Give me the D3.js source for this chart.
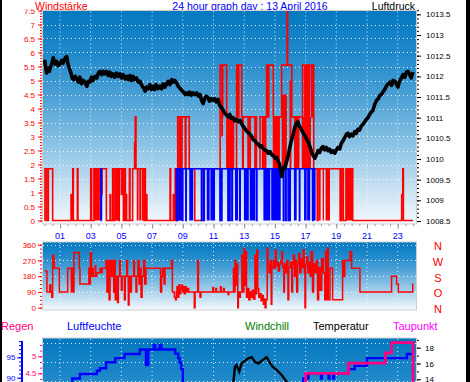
<!DOCTYPE html>
<html><head><meta charset="utf-8">
<script src="https://cdn.jsdelivr.net/npm/d3@7/dist/d3.min.js"></script>
<style>html,body{margin:0;padding:0;background:#fff;overflow:hidden}svg{display:block}</style>
</head><body>
<svg id="chart" width="470" height="382"></svg>
<script>
// ---------------- DATA ----------------
const hourTicks = [1,3,5,7,9,11,13,15,17,19,21,23];
const hourLabels = ["01","03","05","07","09","11","13","15","17","19","21","23"];
const windTicks = [0,0.5,1,1.5,2,2.5,3,3.5,4,4.5,5,5.5,6,6.5,7,7.5];
const pressureTicks = [1008.5,1009,1009.5,1010,1010.5,1011,1011.5,1012,1012.5,1013,1013.5];
const dirTicks = [0,90,180,270,360];
const dirLetters = ["N","O","S","W","N"];
const humTicks = [90,95];
const rainTicks = [4.5,5];
const tempTicks = [14,16,18];

// Wind gusts (red), step series [hour, value]
const gust = [[0,0],[0.02,1.85],[0.13,0],[0.24,1.85],[0.52,0],
[1.72,0.93],[1.76,0],[1.83,1.85],[1.87,0],[2.13,1.85],[2.17,0],[3.0,1.85],[3.06,0],
[3.21,1.85],[3.7,0.93],[3.74,1.85],[4.02,0],[4.26,0.93],[4.3,0],[4.43,1.85],[4.47,0],[4.58,1.85],[4.8,0],
[4.86,1.85],[5.0,0.93],[5.04,1.85],[5.13,0],[5.21,1.85],[5.26,0],[5.3,0.93],[5.34,0],[5.52,1.85],[5.56,0],
[5.73,1.85],[5.86,2.78],[5.9,3.7],[5.95,1.85],[6.47,0],[6.52,1.85],[6.56,0],[6.6,0.93],[6.66,0],
[8.17,1.85],[8.21,0],[8.38,0.93],[8.42,0],[8.5,1.85],[8.56,0],[8.67,3.7],[9.16,1.85],[9.2,3.7],[9.42,1.85],[9.78,0],[10.23,1.85],
[11.43,5.55],[11.55,3.7],[11.6,5.55],[11.86,3.7],[12.1,1.85],[12.15,3.7],[12.3,1.85],[12.5,5.55],[12.6,3.7],[12.65,5.55],[12.84,3.7],[12.9,1.85],[12.94,3.7],[13.25,1.85],[13.3,3.7],[13.7,1.85],[13.75,3.7],[13.8,1.85],[14.03,3.7],[14.2,1.85],[14.3,3.7],[14.46,5.55],[14.55,3.7],[14.6,5.55],[14.9,3.7],[15.44,5.55],[15.8,7.8],[15.83,5.55],[16.1,3.7],[16.3,1.85],[16.35,3.7],[16.8,5.55],[17.4,3.7],[17.5,5.55],[17.53,1.85],[17.76,0],[17.8,1.85],[19.25,0],[19.35,1.85],[19.46,0],[19.63,1.85],[20.07,0],[23.26,0.93],[23.33,1.85],[23.37,0],[24,0]];
// dense gust bursts [hourFrom, hourTo, low, high]
const gustBursts = [[3.21,3.6,0,1.85],[4.58,4.8,0,1.85],[6.0,6.12,0,1.85],[6.16,6.3,0,1.85],[6.34,6.45,0,1.85],
[8.7,9.0,0,3.7],[11.5,11.62,3.0,4.3],[11.82,12.07,1.85,3.7],[12.15,12.28,1.85,3.7],[13.32,13.45,1.85,3.7],[14.32,14.45,1.85,3.7],
[14.86,15.33,1.85,3.7],[15.44,15.78,1.85,4.5],[15.95,16.08,1.85,5.0],
[16.3,16.6,1.85,3.7],[16.75,17.35,1.85,3.7],[16.9,17.3,3.7,5.55],
[17.83,17.98,0,1.85],[18.11,18.2,0,1.85],[18.3,18.59,0,1.85],[19.63,20.07,0,1.85]];
// Average wind (blue), step series, null breaks the line
const windAvg = [[3.64,0],[3.66,1.85],[3.7,0],[3.71,null],
[8.56,0],[8.58,1.85],[8.62,0],[8.65,1.85],[8.98,0],[9.0,1.85],[9.2,0],[9.22,1.85],[10.22,0],[10.25,1.85],[10.37,0],[10.4,1.85],[11.42,0],[11.45,1.85],[11.52,0],[11.55,1.85],[11.94,0],[11.97,1.85],[12.05,0],[12.08,1.85],[12.2,0],[12.23,1.85],[12.71,0],[12.74,1.85],[13.8,0],[13.83,1.85],[15.55,0],[15.58,1.85],[15.7,0],[15.73,1.85],[15.86,0],[15.89,1.85],[15.97,0],[16.0,1.85],[16.6,0],[16.62,1.85],[17.48,0],[17.5,1.85],[17.6,0],[17.62,null]];
const windAvgBursts = [[8.7,8.93],[9.42,9.68],[10.56,10.75],[10.8,11.1],[12.4,12.6],[12.98,13.3],[13.36,13.72],[14.25,14.7],[14.76,15.38],[16.24,16.42],[16.9,17.07],[17.1,17.3],[17.4,17.5]];
// Pressure (hPa)
const pressure = [[0.0,1012.40],[0.06,1012.22],[0.13,1012.08],[0.22,1012.20],[0.3,1012.12],[0.38,1012.22],[0.46,1012.30],[0.56,1012.45],[0.66,1012.30],[0.78,1012.36],[0.88,1012.26],[1.0,1012.30],[1.1,1012.38],[1.2,1012.32],[1.3,1012.42],[1.44,1012.48],[1.52,1012.30],[1.6,1012.20],[1.7,1012.10],[1.8,1011.95],[1.9,1011.92],[2.0,1012.0],[2.09,1011.94],[2.2,1011.86],[2.3,1011.98],[2.41,1011.82],[2.52,1011.90],[2.63,1011.86],[2.75,1011.76],[2.85,1011.88],[2.95,1011.86],[3.05,1011.98],[3.15,1011.90],[3.28,1012.0],[3.4,1011.96],[3.5,1012.08],[3.61,1012.12],[3.72,1012.04],[3.82,1012.12],[3.93,1012.06],[4.04,1012.12],[4.15,1012.02],[4.25,1012.10],[4.35,1012.0],[4.45,1012.06],[4.56,1011.98],[4.68,1012.08],[4.8,1012.0],[4.91,1012.06],[5.02,1011.96],[5.12,1012.04],[5.24,1011.94],[5.35,1012.0],[5.45,1011.92],[5.55,1012.02],[5.66,1011.9],[5.76,1012.0],[5.86,1011.92],[5.98,1011.96],[6.1,1011.86],[6.21,1011.88],[6.32,1011.78],[6.45,1011.72],[6.55,1011.64],[6.65,1011.74],[6.75,1011.7],[6.86,1011.8],[6.96,1011.68],[7.06,1011.76],[7.16,1011.68],[7.26,1011.8],[7.38,1011.7],[7.51,1011.76],[7.62,1011.7],[7.72,1011.82],[7.84,1011.74],[7.95,1011.82],[8.05,1011.88],[8.16,1011.8],[8.28,1011.92],[8.38,1011.86],[8.48,1011.9],[8.6,1011.84],[8.7,1011.76],[8.8,1011.72],[8.93,1011.66],[9.05,1011.62],[9.15,1011.56],[9.25,1011.6],[9.35,1011.56],[9.45,1011.62],[9.55,1011.54],[9.66,1011.6],[9.78,1011.56],[9.9,1011.6],[10.02,1011.52],[10.12,1011.56],[10.22,1011.42],[10.32,1011.34],[10.42,1011.46],[10.52,1011.52],[10.64,1011.48],[10.74,1011.4],[10.85,1011.46],[10.97,1011.42],[11.08,1011.46],[11.18,1011.38],[11.29,1011.44],[11.4,1011.3],[11.53,1011.24],[11.63,1011.18],[11.74,1011.1],[11.86,1011.06],[11.96,1011.02],[12.06,1011.08],[12.16,1010.98],[12.27,1011.0],[12.38,1010.92],[12.5,1010.96],[12.62,1010.9],[12.73,1010.94],[12.82,1010.86],[12.92,1010.8],[13.04,1010.74],[13.15,1010.68],[13.26,1010.64],[13.38,1010.6],[13.5,1010.54],[13.6,1010.46],[13.7,1010.44],[13.81,1010.38],[13.92,1010.36],[14.02,1010.3],[14.12,1010.32],[14.22,1010.26],[14.34,1010.22],[14.46,1010.2],[14.57,1010.14],[14.68,1010.18],[14.8,1010.1],[14.9,1010.08],[15.0,1010.02],[15.12,1010.04],[15.22,1009.94],[15.3,1009.88],[15.38,1009.72],[15.44,1009.58],[15.5,1009.72],[15.58,1009.8],[15.66,1009.78],[15.75,1009.92],[15.85,1010.06],[15.95,1010.24],[16.04,1010.4],[16.12,1010.5],[16.2,1010.62],[16.31,1010.78],[16.4,1010.86],[16.5,1010.9],[16.58,1010.8],[16.66,1010.76],[16.75,1010.7],[16.86,1010.62],[16.96,1010.56],[17.06,1010.48],[17.16,1010.42],[17.28,1010.3],[17.4,1010.16],[17.5,1010.08],[17.61,1010.02],[17.7,1010.1],[17.81,1010.2],[17.92,1010.16],[18.02,1010.26],[18.13,1010.3],[18.24,1010.22],[18.35,1010.28],[18.46,1010.2],[18.56,1010.24],[18.66,1010.16],[18.78,1010.2],[18.9,1010.14],[19.0,1010.22],[19.11,1010.28],[19.22,1010.24],[19.33,1010.38],[19.44,1010.44],[19.55,1010.52],[19.66,1010.6],[19.76,1010.62],[19.86,1010.54],[19.98,1010.6],[20.09,1010.56],[20.2,1010.66],[20.3,1010.62],[20.41,1010.72],[20.52,1010.7],[20.63,1010.8],[20.74,1010.84],[20.85,1010.9],[20.96,1010.96],[21.06,1011.0],[21.18,1011.08],[21.29,1011.14],[21.39,1011.18],[21.5,1011.32],[21.63,1011.42],[21.74,1011.46],[21.84,1011.54],[21.94,1011.56],[22.04,1011.62],[22.15,1011.68],[22.26,1011.76],[22.38,1011.82],[22.5,1011.86],[22.6,1011.78],[22.7,1011.9],[22.82,1011.88],[22.92,1011.8],[23.02,1011.74],[23.12,1011.88],[23.24,1011.96],[23.35,1012.04],[23.46,1011.98],[23.56,1012.1],[23.67,1012.12],[23.78,1012.04],[23.88,1011.96],[23.96,1012.06],[24.0,1012.1]];
// Wind direction (degrees)
const direction = [[0,210],[0.15,90],[0.33,130],[0.4,90],[0.46,60],[0.52,300],[0.58,280],[0.63,225],[0.96,90],
[1.5,225],[1.74,90],[1.78,225],[1.85,90],[1.91,315],[2.26,225],[2.3,135],
[2.88,225],[2.93,135],[2.98,315],[3.05,180],[3.1,225],[3.17,180],[3.3,240],[3.33,180],
[3.39,200],[3.61,225],[3.68,200],[3.75,225],
[4.0,270],[4.06,90],[4.12,270],[4.2,45],[4.26,270],[4.35,180],[4.42,270],[4.5,90],[4.55,270],[4.6,45],[4.65,180],
[4.75,30],[4.8,180],[4.88,270],[4.93,180],[5.0,100],[5.05,180],[5.2,45],[5.25,180],[5.35,270],[5.4,180],[5.45,15],[5.5,180],[5.6,90],[5.65,180],
[5.8,270],[5.85,180],[5.95,90],[6.0,180],
[6.08,270],[6.15,135],[6.22,225],[6.28,60],[6.35,180],[6.45,270],[6.52,135],[6.6,225],
[7.55,90],[7.62,180],[7.68,225],[7.78,135],[7.84,225],
[8.27,270],[8.32,90],[8.45,60],[8.52,45],[8.58,90],
[8.62,120],[8.68,60],[8.74,130],[8.8,80],[8.86,110],[8.92,130],[8.98,90],[9.04,120],[9.1,80],[9.16,120],[9.22,90],[9.3,110],[9.38,90],
[9.75,0],[9.8,90],[9.97,270],[10.02,90],[10.12,60],[10.18,90],
[10.95,115],[11.0,90],[11.15,110],[11.2,90],[11.45,120],[11.5,90],[11.65,110],[11.7,90],[11.95,75],[12.0,90],
[12.3,225],[12.36,90],[12.4,270],[12.46,130],[12.52,250],[12.58,0],[12.62,90],[12.7,60],
[12.75,90],[12.85,300],[12.9,90],[12.98,340],[13.02,130],[13.1,320],[13.15,60],[13.22,110],[13.3,45],[13.38,90],[13.45,60],[13.52,100],[13.6,50],[13.7,300],[13.75,80],[13.82,330],[13.88,110],[13.95,60],[14.02,80],[14.1,40],[14.18,70],[14.25,20],[14.3,50],[14.36,0],[14.42,45],
[14.5,340],[14.55,250],[14.62,200],[14.7,270],[14.76,20],[14.8,230],[14.88,270],[14.95,225],[15.02,330],[15.08,240],[15.15,260],[15.22,210],[15.3,250],[15.38,270],[15.45,320],[15.5,230],[15.58,90],[15.62,250],[15.7,200],[15.78,270],[15.85,45],[15.9,230],[16.0,260],
[16.1,90],[16.15,250],[16.2,300],[16.28,180],[16.35,270],[16.42,90],[16.48,250],[16.55,310],[16.62,200],[16.7,280],[16.78,230],[16.85,330],[16.92,200],[16.96,0],[17.0,250],[17.08,290],[17.15,200],[17.22,260],[17.3,180],[17.36,320],
[17.45,90],[17.52,250],[17.6,200],[17.7,270],[17.78,45],[17.85,230],[17.95,100],[18.05,280],[18.15,200],[18.25,45],[18.3,320],[18.35,45],[18.42,340],[18.48,45],[18.59,225],[18.76,45],
[19.41,270],[19.5,180],[19.55,270],[19.89,320],[20.0,225],[20.54,90],[22.6,180],[22.93,135],[23.04,90],[23.98,135],[24,135]];
// Bottom panel
const humidity = [[0,86],[1.8,89.8],[2.3,90.9],[3.4,91.7],[3.6,92.3],[4.0,93.8],[4.6,94.8],[5.2,95.8],[6.2,96.9],[6.6,93.1],[6.75,96.9],[7.1,98.0],[7.2,96.9],[7.5,98.0],[7.6,96.9],[8.5,95.9],[8.7,94.8],[8.8,93.7],[8.9,92.1],[9.0,88.0],[9.1,80],[16.85,89.8],[17.18,91.1],[18.0,89.8],[18.06,91.1],[18.5,89.8],[18.56,91.1],[18.8,89.8],[18.86,91.1],[19.8,92.1],[20.2,92.9],[21.0,94.8],[23.6,95.8],[24,95.8]];
const temperature = [[0,11],[12.25,12.5],[12.3,13.7],[12.4,15.6],[12.5,15.8],[12.68,15.0],[12.83,16.0],[13.05,16.35],[13.27,16.65],[13.49,16.8],[13.7,16.2],[13.92,16.0],[14.14,16.35],[14.35,16.65],[14.46,16.8],[14.64,16.2],[14.85,15.6],[15.11,15.2],[15.44,14.55],[15.77,13.66],[16.0,13.0],[24,10]];
const rain = [[0,0],[17.0,4.5],[19.8,4.8],[22.2,5.1],[22.6,5.4],[24.0,0]];

// ---------------- DRAW ----------------
const FONT = "'Liberation Sans', Arial, sans-serif";
const RED="#ff0000", BLUE="#0000ff", PINK="#ff0080", MAG="#ff00ff", GREEN="#008000";
const svg = d3.select("#chart").attr("font-family", FONT);
const X0=42, X1=416;
const pTop={y0:10.5,y1:224}, pMid={y0:242,y1:310}, pBot={y0:338,y1:540};

const x = d3.scaleLinear().domain([0,24]).range([44.65,413.05]);
const windY = d3.scaleLinear().domain([0,7.5]).range([220.5,10.5]);
const presY = d3.scaleLinear().domain([1008.5,1013.6]).range([221,10.2]);
const dirY = d3.scaleLinear().domain([0,360]).range([307.7,244.7]);
const humY = d3.scaleLinear().domain([90,95]).range([377.7,357.3]);
const rainY = d3.scaleLinear().domain([4.5,5]).range([373.3,356.3]);
const tempY = d3.scaleLinear().domain([14,18]).range([379.3,347.7]);

const defs = svg.append("defs");
const grad = defs.append("linearGradient").attr("id","bg").attr("x1",0).attr("y1",0).attr("x2",0).attr("y2",1);
[[0,"#0478c0"],[0.2,"#1f89ca"],[0.4,"#4ba0d5"],[0.6,"#83bfe3"],[0.8,"#bedcf0"],[1,"#f4f9fd"]]
  .forEach(s=>grad.append("stop").attr("offset",s[0]).attr("stop-color",s[1]));
[["cTop",pTop],["cMid",pMid],["cBot",pBot]].forEach(([id,p])=>{
  defs.append("clipPath").attr("id",id).append("rect").attr("x",X0).attr("y",p.y0).attr("width",X1-X0).attr("height",p.y1-p.y0);
});

// frame strips
svg.append("rect").attr("x",0).attr("y",0).attr("width",2).attr("height",382).attr("fill","#000");
svg.append("rect").attr("x",466).attr("y",0).attr("width",4).attr("height",382).attr("fill","#000");

function styleAxis(g, color, fs){
  g.select(".domain").remove();
  g.attr("font-family",FONT).attr("font-size",fs);
  g.selectAll("line").attr("stroke",color);
  g.selectAll("text").attr("fill",color);
  return g;
}

// --- top panel axes ---
styleAxis(svg.append("g").attr("transform",`translate(${X0},0)`)
  .call(d3.axisLeft(windY).tickValues(d3.range(0,7.55,0.1)).tickSize(2).tickFormat("")), RED, 8);
styleAxis(svg.append("g").attr("transform",`translate(${X0},0)`)
  .call(d3.axisLeft(windY).tickValues(windTicks).tickSize(4).tickPadding(3).tickFormat(d=>String(d))), RED, 8);
styleAxis(svg.append("g").attr("transform",`translate(${X1+1},0)`)
  .call(d3.axisRight(presY).tickValues(d3.range(1008.5,1013.65,0.1)).tickSize(2).tickFormat("")), "#000", 8);
styleAxis(svg.append("g").attr("transform",`translate(${X1+1},0)`)
  .call(d3.axisRight(presY).tickValues(pressureTicks).tickSize(4).tickPadding(5).tickFormat(d=>String(d))), "#000", 8);
// hour ticks
styleAxis(svg.append("g").attr("transform",`translate(0,${pTop.y1})`)
  .call(d3.axisBottom(x).tickValues(d3.range(0,24.01,0.5)).tickSize(2).tickFormat("")), "#8a8a8a", 8);
styleAxis(svg.append("g").attr("transform",`translate(0,${pTop.y1})`)
  .call(d3.axisBottom(x).tickValues(hourTicks).tickSize(4.5).tickFormat("")), "#8a8a8a", 8);
svg.append("g").selectAll("text").data(hourTicks).join("text")
  .attr("x",d=>x(d)).attr("y",238.5).attr("text-anchor","middle")
  .attr("font-size",9).attr("fill",BLUE).text((d,i)=>hourLabels[i]);

// white title band & titles
svg.append("rect").attr("x",2).attr("y",0).attr("width",464).attr("height",9.5).attr("fill","#fff");
svg.append("text").attr("x",35).attr("y",9.5).attr("font-size",10.5).attr("fill",RED).text("Windstärke");
svg.append("text").attr("x",250).attr("y",9.5).attr("font-size",10.5).attr("text-anchor","middle").attr("fill",BLUE).text("24 hour graph day : 13 April 2016");
svg.append("text").attr("x",415).attr("y",9.5).attr("font-size",10.5).attr("text-anchor","end").attr("fill","#000").text("Luftdruck");

// --- panel backgrounds + grid ---
function panel(p, hLines, yfun){
  svg.append("rect").attr("x",X0).attr("y",p.y0).attr("width",X1-X0).attr("height",p.y1-p.y0)
    .attr("fill","url(#bg)");
  const g = svg.append("g");
  g.selectAll("line.h").data(hLines).join("line")
    .attr("x1",X0+1).attr("x2",X1).attr("y1",yfun).attr("y2",yfun)
    .attr("stroke","#fff").attr("stroke-width",1).attr("stroke-dasharray","1,3").attr("opacity",0.85);
  g.selectAll("line.v").data(hourTicks).join("line")
    .attr("x1",d=>x(d)).attr("x2",d=>x(d)).attr("y1",p.y0+1).attr("y2",Math.min(p.y1,382))
    .attr("stroke","#fff").attr("stroke-width",1).attr("stroke-dasharray","1,3").attr("opacity",0.85);
}
panel(pTop, d3.range(0.5,7.01,0.5), d=>Math.round(windY(d))+0.5);
panel(pMid, [90,180,270,360], d=>Math.round(dirY(d))+0.5);
panel(pBot, [0,1,2], d=>pBot.y0+5.5+d*19);

// --- top panel marks ---
const gT = svg.append("g").attr("clip-path","url(#cTop)");
const stepLine = (ys) => d3.line().defined(d=>d[1]!=null).x(d=>x(d[0])).y(d=>ys(d[1])).curve(d3.curveStepAfter);
gT.selectAll("rect.gb").data(gustBursts).join("rect")
  .attr("x",d=>x(d[0])).attr("width",d=>x(d[1])-x(d[0]))
  .attr("y",d=>windY(d[3])).attr("height",d=>windY(d[2])-windY(d[3])).attr("fill",RED);
gT.append("path").attr("d",stepLine(windY)(gust)).attr("fill","none").attr("stroke",RED).attr("stroke-width",1.6);
gT.selectAll("rect.ab").data(windAvgBursts).join("rect")
  .attr("x",d=>x(d[0])).attr("width",d=>x(d[1])-x(d[0]))
  .attr("y",windY(1.85)).attr("height",windY(0)-windY(1.85)).attr("fill",BLUE);
gT.append("path").attr("d",stepLine(windY)(windAvg)).attr("fill","none").attr("stroke",BLUE).attr("stroke-width",1.6);
gT.append("path").attr("d",d3.line().x(d=>x(d[0])).y(d=>presY(d[1]))(pressure))
  .attr("fill","none").attr("stroke","#000").attr("stroke-width",3.6).attr("stroke-linejoin","round");

// --- middle panel ---
styleAxis(svg.append("g").attr("transform",`translate(${X0},0)`)
  .call(d3.axisLeft(dirY).tickValues(d3.range(0,360.1,22.5)).tickSize(2).tickFormat("")), RED, 8);
styleAxis(svg.append("g").attr("transform",`translate(${X0},0)`)
  .call(d3.axisLeft(dirY).tickValues(dirTicks).tickSize(4).tickPadding(2).tickFormat(d=>String(d))), RED, 8);
svg.append("g").selectAll("text").data(dirTicks).join("text")
  .attr("x",438).attr("y",d=>dirY(d)+1.5).attr("dy","0.35em").attr("text-anchor","middle")
  .attr("font-size",11).attr("fill",RED).text((d,i)=>dirLetters[i]);
const gM = svg.append("g").attr("clip-path","url(#cMid)");
gM.append("path").attr("d",stepLine(dirY)(direction)).attr("fill","none").attr("stroke",RED).attr("stroke-width",1.5);

// --- bottom panel labels & axes ---
const lab = [["Regen",1,PINK],["Luftfeuchte",67,BLUE],["Windchill",245,GREEN],["Temperatur",313,"#000"],["Taupunkt",393,MAG]];
svg.append("g").selectAll("text").data(lab).join("text")
  .attr("x",d=>d[1]).attr("y",330).attr("font-size",11).attr("fill",d=>d[2]).text(d=>d[0]);
svg.append("line").attr("x1",22).attr("x2",22).attr("y1",pBot.y0+3).attr("y2",382).attr("stroke",BLUE).attr("stroke-width",2);
styleAxis(svg.append("g").attr("transform",`translate(21,0)`)
  .call(d3.axisLeft(humY).tickValues(d3.range(85,100,1)).tickSize(2).tickFormat("")), BLUE, 8);
styleAxis(svg.append("g").attr("transform",`translate(21,0)`)
  .call(d3.axisLeft(humY).tickValues(humTicks).tickSize(4).tickPadding(1.5).tickFormat(d=>String(d))), BLUE, 8);
styleAxis(svg.append("g").attr("transform",`translate(${X0},0)`)
  .call(d3.axisLeft(rainY).tickValues(d3.range(4.0,5.45,0.5/3)).tickSize(2).tickFormat("")), PINK, 8);
styleAxis(svg.append("g").attr("transform",`translate(${X0},0)`)
  .call(d3.axisLeft(rainY).tickValues(rainTicks).tickSize(4).tickPadding(1.5).tickFormat(d=>String(d))), PINK, 8);
styleAxis(svg.append("g").attr("transform",`translate(${X1+1},0)`)
  .call(d3.axisRight(tempY).tickValues([12,13,14,15,16,17,18,19]).tickSize(2).tickFormat("")), "#000", 8);
styleAxis(svg.append("g").attr("transform",`translate(${X1+1},0)`)
  .call(d3.axisRight(tempY).tickValues(tempTicks).tickSize(4).tickPadding(4).tickFormat(d=>String(d))), "#000", 8);

const gB = svg.append("g").attr("clip-path","url(#cBot)");
gB.append("path").attr("d",stepLine(humY)(humidity)).attr("fill","none").attr("stroke",BLUE).attr("stroke-width",2.4);
gB.append("path").attr("d",d3.line().x(d=>x(d[0])).y(d=>tempY(d[1]))(temperature)).attr("fill","none").attr("stroke","#000").attr("stroke-width",2.4);
gB.append("path").attr("d",stepLine(rainY)(rain)).attr("fill","none").attr("stroke",PINK).attr("stroke-width",2.8);

// plot borders
[pTop,pMid,pBot].forEach(p=>{
  svg.append("rect").attr("x",X0+0.5).attr("y",p.y0).attr("width",X1-X0).attr("height",p.y1-p.y0)
    .attr("fill","none").attr("stroke","#cfcfcf").attr("stroke-width",1);
});
</script>
</body></html>
